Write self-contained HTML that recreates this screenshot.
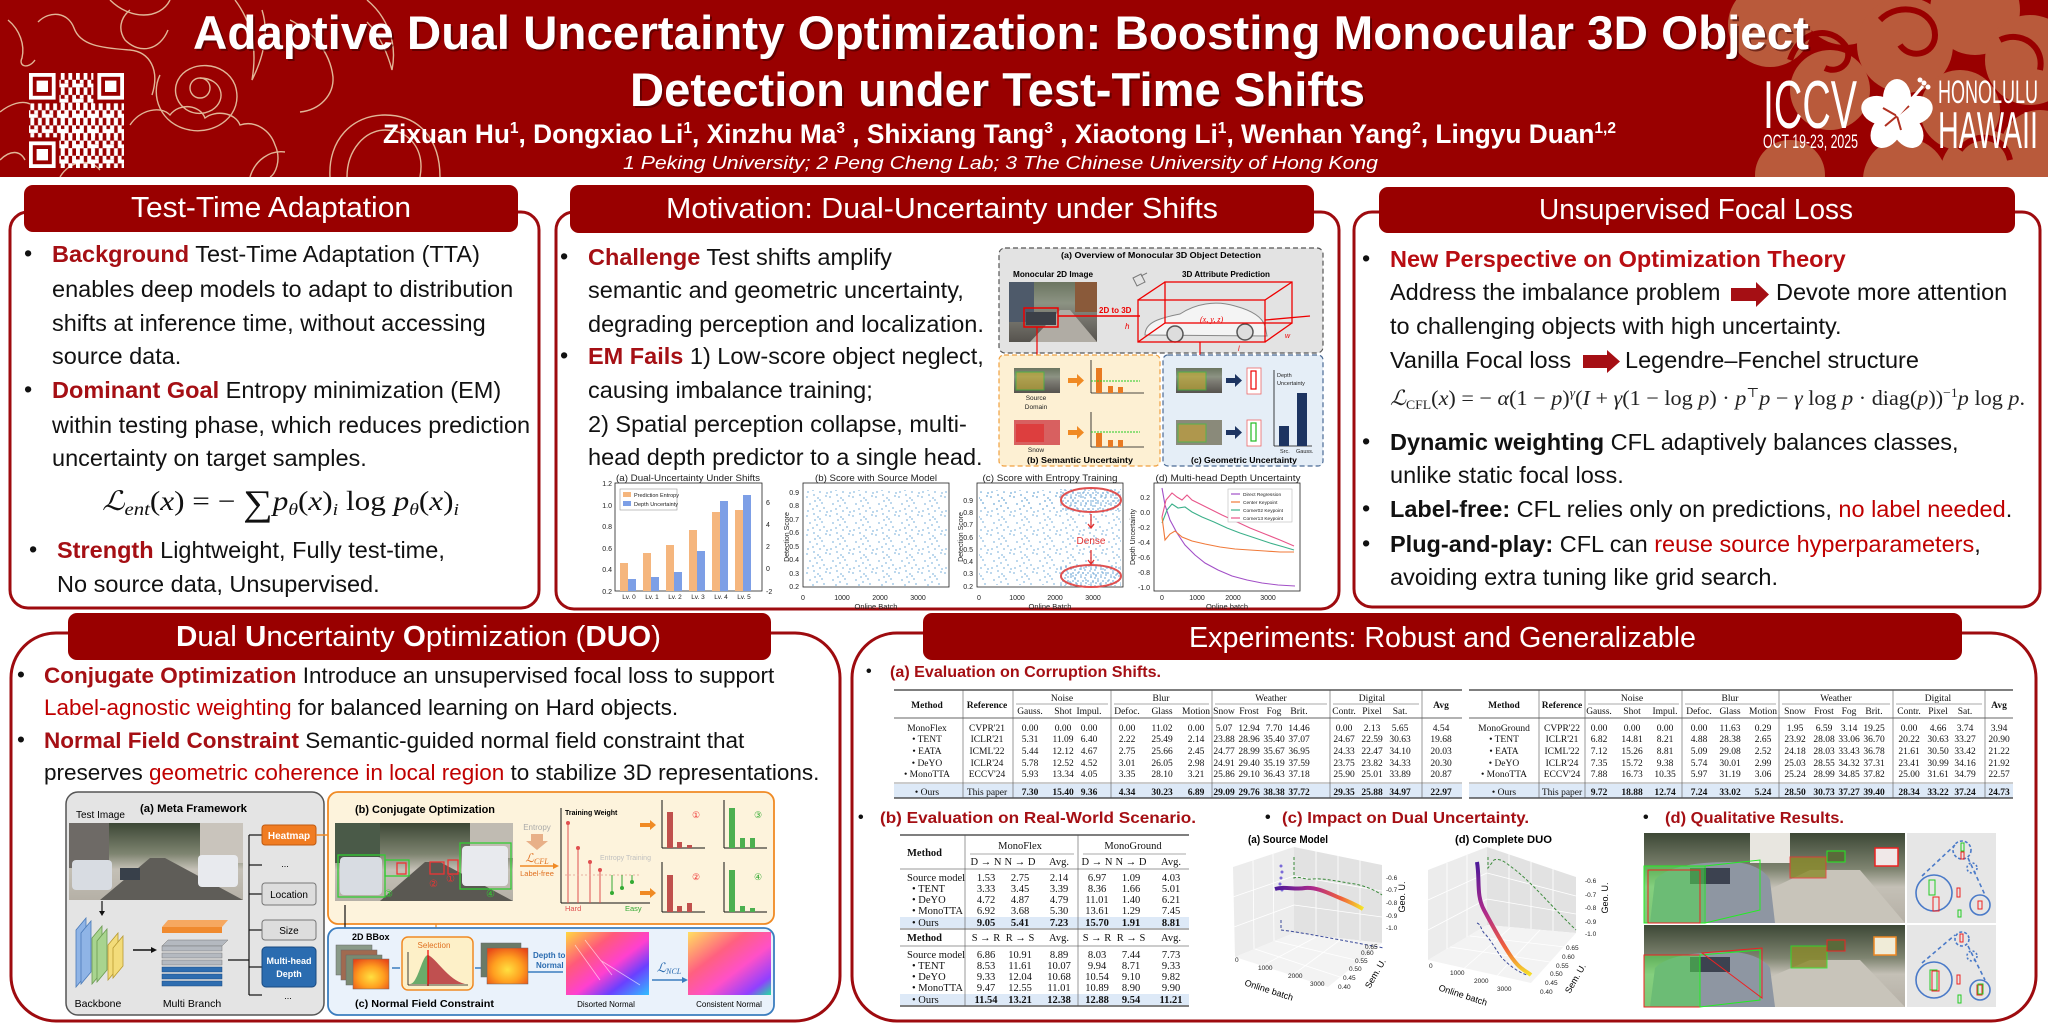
<!DOCTYPE html>
<html><head><meta charset="utf-8">
<style>
html,body{margin:0;padding:0;background:#fff;width:2048px;height:1024px;overflow:hidden}
svg{display:block}
text{font-family:"Liberation Sans",Arial,sans-serif}
.sf{font-family:"Liberation Serif","DejaVu Serif",serif}
.k{font-weight:bold;fill:#a50f14}
.r{fill:#c00000}
.t text{font-size:9.5px;font-family:"Liberation Serif","DejaVu Serif",serif;fill:#111}
.tb text{font-size:10.5px;font-family:"Liberation Serif","DejaVu Serif",serif;fill:#111}
</style></head><body>
<svg width="2048" height="1024" viewBox="0 0 2048 1024" xmlns="http://www.w3.org/2000/svg">
<defs>
<pattern id="qr" width="15.2" height="15.2" patternUnits="userSpaceOnUse">
<rect x="0" y="0" width="3.8" height="3.8" fill="#fff"/><rect x="7.6" y="0" width="3.8" height="3.8" fill="#fff"/><rect x="3.8" y="3.8" width="3.8" height="3.8" fill="#fff"/><rect x="11.4" y="3.8" width="3.8" height="7.6" fill="#fff"/><rect x="0" y="7.6" width="7.6" height="3.8" fill="#fff"/><rect x="7.6" y="11.4" width="3.8" height="3.8" fill="#fff"/><rect x="0" y="11.4" width="3.8" height="3.8" fill="#fff"/>
</pattern>
<pattern id="sc" width="23" height="19" patternUnits="userSpaceOnUse">
<g fill="#8dbbe0"><circle cx="2" cy="3" r="0.9"/><circle cx="9" cy="1" r="0.9"/><circle cx="15" cy="6" r="0.9"/><circle cx="21" cy="2" r="0.9"/><circle cx="5" cy="10" r="0.9"/><circle cx="12" cy="12" r="0.9"/><circle cx="19" cy="14" r="0.9"/><circle cx="3" cy="17" r="0.9"/><circle cx="8" cy="15" r="0.9"/><circle cx="17" cy="9" r="0.9"/><circle cx="22" cy="18" r="0.9"/><circle cx="13" cy="4" r="0.9"/><circle cx="10" cy="7" r="0.9"/><circle cx="15" cy="17" r="0.9"/></g>
</pattern>
<pattern id="scd" width="10" height="8" patternUnits="userSpaceOnUse">
<g fill="#7fb1da"><circle cx="1" cy="1" r="0.9"/><circle cx="5" cy="2" r="0.9"/><circle cx="8" cy="5" r="0.9"/><circle cx="3" cy="5" r="0.9"/><circle cx="6" cy="7" r="0.9"/><circle cx="1" cy="7" r="0.8"/></g>
</pattern>
<linearGradient id="street" x1="0" y1="0" x2="0" y2="1">
<stop offset="0" stop-color="#6b7560"/><stop offset="0.35" stop-color="#8c9383"/><stop offset="0.55" stop-color="#7b7a72"/><stop offset="1" stop-color="#56534e"/>
</linearGradient>
<linearGradient id="street2" x1="0" y1="0" x2="0" y2="1">
<stop offset="0" stop-color="#3d4836"/><stop offset="0.4" stop-color="#7e8470"/><stop offset="0.6" stop-color="#c4c0b6"/><stop offset="1" stop-color="#b5b0a6"/>
</linearGradient>
<radialGradient id="depth" cx="0.5" cy="0.6" r="0.7">
<stop offset="0" stop-color="#ffe040"/><stop offset="0.5" stop-color="#ffa020"/><stop offset="1" stop-color="#e84818"/>
</radialGradient>
<linearGradient id="normal" x1="0" y1="0" x2="1" y2="1">
<stop offset="0" stop-color="#ffd840"/><stop offset="0.3" stop-color="#ff5a7a"/><stop offset="0.55" stop-color="#ff40d0"/><stop offset="0.75" stop-color="#6a40ff"/><stop offset="1" stop-color="#30c0ff"/>
</linearGradient>
<linearGradient id="normal2" x1="0" y1="0" x2="1" y2="1">
<stop offset="0" stop-color="#ffe060"/><stop offset="0.35" stop-color="#ff6080"/><stop offset="0.6" stop-color="#ff50c8"/><stop offset="0.85" stop-color="#9040ff"/><stop offset="1" stop-color="#20e0a0"/>
</linearGradient>
<linearGradient id="cA" gradientUnits="userSpaceOnUse" x1="1275" y1="0" x2="1363" y2="0">
<stop offset="0" stop-color="#4b1a9a"/><stop offset="0.45" stop-color="#b02a8a"/><stop offset="0.75" stop-color="#f0603a"/><stop offset="1" stop-color="#f5e52a"/>
</linearGradient>
<linearGradient id="cD" gradientUnits="userSpaceOnUse" x1="0" y1="862" x2="0" y2="976">
<stop offset="0" stop-color="#4b1a9a"/><stop offset="0.45" stop-color="#b02a8a"/><stop offset="0.75" stop-color="#f0603a"/><stop offset="1" stop-color="#f5e52a"/>
</linearGradient>
<clipPath id="hdr"><rect x="0" y="0" width="2048" height="177"/></clipPath>
</defs>

<!-- ================= HEADER ================= -->
<rect x="0" y="0" width="2048" height="177" fill="#990000"/>
<g clip-path="url(#hdr)">
<g fill="#b95a3b">
<circle cx="1770" cy="25" r="42"/><circle cx="1845" cy="0" r="45"/><circle cx="1905" cy="45" r="48"/><circle cx="1975" cy="10" r="45"/><circle cx="2030" cy="60" r="45"/><circle cx="2040" cy="150" r="40"/><circle cx="1985" cy="175" r="45"/><circle cx="1905" cy="180" r="42"/><circle cx="1830" cy="90" r="40"/><circle cx="1790" cy="175" r="35"/><circle cx="1960" cy="110" r="40"/>
</g>
<g fill="none" stroke="#990000" stroke-width="6">
<path d="M1790,60 C1800,30 1830,25 1845,45 C1855,60 1840,75 1825,68"/>
<path d="M1880,20 C1900,0 1935,10 1935,35 C1935,55 1910,60 1900,45"/>
<path d="M2000,40 C2020,30 2045,45 2040,70"/>
<path d="M1960,150 C1975,130 2005,135 2010,160"/>
<path d="M1740,120 C1760,110 1780,120 1785,140"/>
</g>
<g fill="none" stroke="#e9caa8" stroke-width="1.4" opacity="0.9">
<path d="M8,20 C20,30 25,45 22,58 C18,66 28,70 35,60"/>
<path d="M0,112 C10,104 22,100 30,104 M130,10 C120,18 118,30 125,40 C140,55 160,50 168,30"/>
<path d="M38,22 C50,10 68,12 74,28 C80,45 100,48 130,50 C150,52 160,70 152,95"/>
<path d="M110,0 C130,20 160,20 170,0"/>
<circle cx="200" cy="88" r="10"/><path d="M200,78 C222,78 228,100 212,110 C190,122 168,100 178,80 C188,60 225,60 235,85 C245,115 215,135 190,130 C160,125 150,95 160,75"/>
<path d="M130,125 C140,110 160,105 170,115 C180,102 200,105 205,118 C215,110 235,112 240,125 C255,120 270,130 275,145 C282,160 275,175 270,177"/>
<path d="M235,0 C250,20 258,45 252,80 C262,60 270,35 262,10"/>
<path d="M290,20 C310,30 330,50 333,77 C334,95 320,110 300,112"/>
<path d="M367,0 C385,15 398,40 392,70 C388,55 380,35 367,22"/>
<path d="M347,177 C347,150 365,130 385,130 C410,130 425,150 420,177"/>
<path d="M330,177 C328,140 352,115 385,115 C420,115 440,140 440,177"/>
<path d="M60,177 C70,160 90,158 100,170 M0,160 C10,150 20,150 25,160"/>
<path d="M250,177 C255,160 270,150 285,152"/>
</g>
</g>
<!-- QR -->
<g>
<rect x="59.4" y="73" width="34" height="95" fill="url(#qr)"/>
<rect x="29" y="103.4" width="95" height="34" fill="url(#qr)"/>
<rect x="59.4" y="103.4" width="64.6" height="64.6" fill="url(#qr)"/>
<rect x="29" y="73" width="26.6" height="26.6" fill="#fff"/><rect x="32.8" y="76.8" width="19" height="19" fill="#990000"/><rect x="36.6" y="80.6" width="11.4" height="11.4" fill="#fff"/>
<rect x="97.4" y="73" width="26.6" height="26.6" fill="#fff"/><rect x="101.2" y="76.8" width="19" height="19" fill="#990000"/><rect x="105" y="80.6" width="11.4" height="11.4" fill="#fff"/>
<rect x="29" y="141.4" width="26.6" height="26.6" fill="#fff"/><rect x="32.8" y="145.2" width="19" height="19" fill="#990000"/><rect x="36.6" y="149" width="11.4" height="11.4" fill="#fff"/>
</g>
<!-- title -->
<g font-weight="bold" font-size="47">
<text x="195" y="51" fill="#3a0000" opacity="0.55" textLength="1616" lengthAdjust="spacingAndGlyphs">Adaptive Dual Uncertainty Optimization: Boosting Monocular 3D Object</text>
<text x="193" y="49" fill="#fff" textLength="1616" lengthAdjust="spacingAndGlyphs">Adaptive Dual Uncertainty Optimization: Boosting Monocular 3D Object</text>
<text x="632" y="108" fill="#3a0000" opacity="0.55" textLength="735" lengthAdjust="spacingAndGlyphs">Detection under Test-Time Shifts</text>
<text x="630" y="106" fill="#fff" textLength="735" lengthAdjust="spacingAndGlyphs">Detection under Test-Time Shifts</text>
</g>
<text x="383" y="143" font-size="27" font-weight="bold" fill="#fff" textLength="1233" lengthAdjust="spacingAndGlyphs">Zixuan Hu<tspan font-size="16" dy="-10">1</tspan><tspan dy="10">, Dongxiao Li</tspan><tspan font-size="16" dy="-10">1</tspan><tspan dy="10">, Xinzhu Ma</tspan><tspan font-size="16" dy="-10">3</tspan><tspan dy="10"> , Shixiang Tang</tspan><tspan font-size="16" dy="-10">3</tspan><tspan dy="10"> , Xiaotong Li</tspan><tspan font-size="16" dy="-10">1</tspan><tspan dy="10">, Wenhan Yang</tspan><tspan font-size="16" dy="-10">2</tspan><tspan dy="10">, Lingyu Duan</tspan><tspan font-size="16" dy="-10">1,2</tspan></text>
<text x="623" y="169" font-size="18" font-style="italic" fill="#fff" textLength="755" lengthAdjust="spacingAndGlyphs">1 Peking University; 2 Peng Cheng Lab; 3 The Chinese University of Hong Kong</text>
<!-- ICCV logo -->
<g fill="#fff">
<text x="1763" y="128" font-size="68" textLength="94" lengthAdjust="spacingAndGlyphs">ICCV</text>
<text x="1763" y="148" font-size="19" textLength="95" lengthAdjust="spacingAndGlyphs">OCT 19-23, 2025</text>
<text x="1938" y="103" font-size="32" textLength="100" lengthAdjust="spacingAndGlyphs">HONOLULU</text>
<text x="1938" y="148" font-size="52" textLength="100" lengthAdjust="spacingAndGlyphs">HAWAII</text>
<g transform="translate(1897,116)">
<ellipse cx="0" cy="-18" rx="14" ry="19"/><ellipse cx="0" cy="-18" rx="14" ry="19" transform="rotate(72)"/><ellipse cx="0" cy="-18" rx="14" ry="19" transform="rotate(144)"/><ellipse cx="0" cy="-18" rx="14" ry="19" transform="rotate(216)"/><ellipse cx="0" cy="-18" rx="14" ry="19" transform="rotate(288)"/>
<path d="M0,0 L-14,-8 M0,0 L12,-10 M0,0 L4,14 M0,0 L-12,10" stroke="#b03020" stroke-width="2"/>
<path d="M0,0 L26,-30" stroke="#fff" stroke-width="3"/>
<circle cx="27" cy="-33" r="2.5"/><circle cx="31" cy="-29" r="2.5"/><circle cx="23" cy="-36" r="2.5"/>
</g>
</g>

<!-- ================= PANEL 1 ================= -->
<rect x="10" y="212" width="529" height="396" rx="18" fill="#fff" stroke="#9e0b0f" stroke-width="3"/>
<rect x="24" y="185" width="494" height="47" rx="9" fill="#990000"/>
<text x="131" y="217" font-size="29" fill="#fff" textLength="280" lengthAdjust="spacingAndGlyphs">Test-Time Adaptation</text>
<g font-size="23.5" fill="#111">
<text x="24" y="261">•</text>
<text x="52" y="262"><tspan class="k">Background</tspan> Test-Time Adaptation (TTA)</text>
<text x="52" y="297">enables deep models to adapt to distribution</text>
<text x="52" y="331">shifts at inference time, without accessing</text>
<text x="52" y="364">source data.</text>
<text x="24" y="397">•</text>
<text x="52" y="398"><tspan class="k">Dominant Goal</tspan> Entropy minimization (EM)</text>
<text x="52" y="433">within testing phase, which reduces prediction</text>
<text x="52" y="466">uncertainty on target samples.</text>
<text x="29" y="557">•</text>
<text x="57" y="558"><tspan class="k">Strength</tspan> Lightweight, Fully test-time,</text>
<text x="57" y="592">No source data, Unsupervised.</text>
</g>
<text x="102" y="510" class="sf" font-size="27" fill="#111" textLength="357" lengthAdjust="spacingAndGlyphs"><tspan font-style="italic">ℒ</tspan><tspan font-style="italic" font-size="18" dy="5">ent</tspan><tspan dy="-5">(</tspan><tspan font-style="italic">x</tspan>) = − <tspan font-size="36" dy="5">∑</tspan><tspan dy="-5" font-style="italic">p</tspan><tspan font-style="italic" font-size="17" dy="5">θ</tspan><tspan dy="-5">(</tspan><tspan font-style="italic">x</tspan>)<tspan font-style="italic" font-size="17" dy="5">i</tspan><tspan dy="-5"> log </tspan><tspan font-style="italic">p</tspan><tspan font-style="italic" font-size="17" dy="5">θ</tspan><tspan dy="-5">(</tspan><tspan font-style="italic">x</tspan>)<tspan font-style="italic" font-size="17" dy="5">i</tspan></text>

<!-- ================= PANEL 2 ================= -->
<rect x="556" y="212" width="783" height="397" rx="18" fill="#fff" stroke="#9e0b0f" stroke-width="3"/>
<rect x="570" y="185" width="744" height="48" rx="9" fill="#990000"/>
<text x="666" y="218" font-size="29" fill="#fff" textLength="552" lengthAdjust="spacingAndGlyphs">Motivation:  Dual-Uncertainty under Shifts</text>
<g font-size="23.5" fill="#111">
<text x="560" y="264">•</text>
<text x="588" y="265"><tspan class="k">Challenge</tspan> Test shifts amplify</text>
<text x="588" y="298">semantic and geometric uncertainty,</text>
<text x="588" y="332">degrading perception and localization.</text>
<text x="560" y="363">•</text>
<text x="588" y="364"><tspan class="k">EM Fails</tspan> 1) Low-score object neglect,</text>
<text x="588" y="398">causing imbalance training;</text>
<text x="588" y="432">2) Spatial perception collapse, multi-</text>
<text x="588" y="465">head depth predictor to a single head.</text>
</g>
<!-- overview (a) -->
<rect x="999" y="248" width="324" height="105" rx="6" fill="#e3e3e3" stroke="#555" stroke-width="1.2" stroke-dasharray="5,3"/>
<text x="1161" y="258" font-size="8.5" font-weight="bold" text-anchor="middle" textLength="200" lengthAdjust="spacingAndGlyphs">(a) Overview of Monocular 3D Object Detection</text>
<text x="1013" y="277" font-size="8" font-weight="bold" textLength="80" lengthAdjust="spacingAndGlyphs">Monocular 2D Image</text>
<text x="1182" y="277" font-size="8" font-weight="bold" textLength="88" lengthAdjust="spacingAndGlyphs">3D Attribute Prediction</text>
<rect x="1009" y="282" width="88" height="60" fill="url(#street)"/>
<rect x="1009" y="282" width="25" height="40" fill="#4e5a6a"/><rect x="1075" y="282" width="22" height="30" fill="#8a5a3a"/>
<polygon points="1030,342 1060,310 1070,310 1097,342" fill="#b0aca4"/>
<rect x="1026" y="312" width="30" height="13" fill="#3c4048"/>
<rect x="1024" y="308" width="34" height="19" fill="none" stroke="#e00" stroke-width="1.5"/>
<line x1="1058" y1="316" x2="1140" y2="316" stroke="#e00" stroke-width="1.5"/>
<text x="1099" y="313" font-size="8" font-weight="bold" fill="#e00">2D to 3D</text>
<text x="1125" y="329" font-size="8" font-style="italic" fill="#e00">h</text>
<path d="M1133,278 l8,-4 l4,8 l-8,4 z M1141,276 l6,-3" fill="none" stroke="#777" stroke-width="1"/>
<path d="M1145,335 C1145,322 1160,318 1180,314 C1195,304 1215,300 1235,306 C1250,310 1262,316 1265,326 L1267,336 Z" fill="#f4f4f4" stroke="#888" stroke-width="1"/>
<circle cx="1175" cy="334" r="8" fill="#ddd" stroke="#555" stroke-width="1.5"/><circle cx="1245" cy="332" r="8" fill="#ddd" stroke="#555" stroke-width="1.5"/>
<g stroke="#e00" stroke-width="1.3" fill="none">
<rect x="1138" y="300" width="127" height="42"/><rect x="1165" y="282" width="127" height="41"/>
<line x1="1138" y1="300" x2="1165" y2="282"/><line x1="1265" y1="300" x2="1292" y2="282"/><line x1="1265" y1="342" x2="1292" y2="323"/><line x1="1138" y1="342" x2="1165" y2="323"/>
<line x1="1265" y1="320" x2="1310" y2="316"/>
</g>
<text x="1200" y="322" font-size="8" font-style="italic" fill="#e00" class="sf">(x, y, z)</text>
<text x="1285" y="338" font-size="7" font-style="italic" fill="#e00">w</text><text x="1238" y="351" font-size="7" font-style="italic" fill="#e00">l</text>
<line x1="1037" y1="327" x2="1037" y2="372" stroke="#e00" stroke-width="1.2"/>
<line x1="1200" y1="342" x2="1200" y2="368" stroke="#e00" stroke-width="1.2"/>
<!-- (b) semantic -->
<rect x="999" y="355" width="161" height="111" rx="5" fill="#fdf0d3" stroke="#f0a040" stroke-width="1.2" stroke-dasharray="5,3"/>
<rect x="1014" y="368" width="46" height="25" fill="url(#street)"/><rect x="1016" y="372" width="28" height="18" fill="#c8b030" opacity="0.6" stroke="#3c3" stroke-width="1"/>
<rect x="1014" y="420" width="46" height="25" fill="#d86060"/><rect x="1016" y="424" width="28" height="18" fill="#e03030" opacity="0.7"/>
<g font-size="6.5" text-anchor="middle" fill="#222"><text x="1036" y="400">Source</text><text x="1036" y="409">Domain</text><text x="1036" y="452">Snow</text>
<text x="1200" y="400">Source</text><text x="1200" y="409">Domain</text><text x="1200" y="452">Gaussian Noise</text>
<text x="1254" y="402">BEV</text><text x="1254" y="452">BEV</text></g>
<g fill="#f08a24"><polygon points="1068,378 1077,378 1077,374 1084,380.5 1077,387 1077,383 1068,383"/><polygon points="1068,430 1077,430 1077,426 1084,432.5 1077,439 1077,435 1068,435"/></g>
<g stroke="#111" stroke-width="0.8"><line x1="1091" y1="360" x2="1091" y2="393"/><line x1="1091" y1="393" x2="1144" y2="393"/><line x1="1091" y1="412" x2="1091" y2="447"/><line x1="1091" y1="447" x2="1144" y2="447"/></g>
<g fill="#e87a22"><rect x="1096" y="368" width="6" height="25"/><rect x="1108" y="386" width="5" height="7"/><rect x="1118" y="387" width="5" height="6"/><rect x="1096" y="433" width="6" height="14"/><rect x="1108" y="440" width="5" height="7"/><rect x="1118" y="440" width="5" height="7"/></g>
<line x1="1091" y1="381" x2="1140" y2="381" stroke="#2c2" stroke-width="1" stroke-dasharray="2,1"/><line x1="1091" y1="432" x2="1140" y2="432" stroke="#2c2" stroke-width="1" stroke-dasharray="2,1"/>
<text x="1080" y="463" font-size="8.5" font-weight="bold" text-anchor="middle" textLength="106" lengthAdjust="spacingAndGlyphs">(b) Semantic Uncertainty</text>
<!-- (c) geometric -->
<rect x="1163" y="355" width="160" height="111" rx="5" fill="#e5eef7" stroke="#4a6a95" stroke-width="1.2" stroke-dasharray="5,3"/>
<rect x="1176" y="368" width="46" height="25" fill="url(#street)"/><rect x="1178" y="372" width="28" height="18" fill="#c8b030" opacity="0.6" stroke="#3c3" stroke-width="1"/>
<rect x="1176" y="420" width="46" height="25" fill="#8a8a7a"/><rect x="1178" y="424" width="28" height="18" fill="#c8a030" opacity="0.6" stroke="#3c3" stroke-width="1"/>
<g fill="#1d3461"><polygon points="1226,378 1235,378 1235,374 1242,380.5 1235,387 1235,383 1226,383"/><polygon points="1226,430 1235,430 1235,426 1242,432.5 1235,439 1235,435 1226,435"/></g>
<rect x="1247" y="368" width="14" height="26" fill="#fff" stroke="#e66" stroke-width="0.8"/><rect x="1251" y="371" width="5" height="18" fill="none" stroke="#e00" stroke-width="1.2"/>
<rect x="1247" y="420" width="14" height="26" fill="#fff" stroke="#e66" stroke-width="0.8"/><rect x="1251" y="423" width="5" height="18" fill="none" stroke="#2b2" stroke-width="1.2"/>
<g stroke="#111" stroke-width="0.8"><line x1="1274" y1="370" x2="1274" y2="446"/><line x1="1274" y1="446" x2="1312" y2="446"/></g>
<rect x="1279" y="426" width="10" height="20" fill="#1d3461"/><rect x="1297" y="393" width="10" height="53" fill="#1d3461"/>
<g font-size="5.5" fill="#222"><text x="1277" y="377">Depth</text><text x="1277" y="385">Uncertainty</text><text x="1280" y="453">Src.</text><text x="1296" y="453">Gauss.</text></g>
<text x="1244" y="463" font-size="8.5" font-weight="bold" text-anchor="middle" textLength="106" lengthAdjust="spacingAndGlyphs">(c) Geometric Uncertainty</text>

<!-- chart a -->
<g font-size="7" fill="#222">
<text x="688" y="481" font-size="9" text-anchor="middle" textLength="144" lengthAdjust="spacingAndGlyphs">(a) Dual-Uncertainty Under Shifts</text>
<rect x="615" y="483" width="147" height="108" fill="#fff" stroke="#222" stroke-width="0.8"/>
<g text-anchor="end"><text x="612" y="486">1.2</text><text x="612" y="508">1.0</text><text x="612" y="529">0.8</text><text x="612" y="551">0.6</text><text x="612" y="572">0.4</text><text x="612" y="594">0.2</text></g>
<text x="766" y="505">6</text><text x="766" y="527">4</text><text x="766" y="549">2</text><text x="766" y="571">0</text><text x="766" y="594">-2</text>
<g fill="#f5b67e"><rect x="620" y="563" width="8" height="28"/><rect x="643" y="553" width="8" height="38"/><rect x="666" y="545" width="8" height="46"/><rect x="689" y="530" width="8" height="61"/><rect x="712" y="512" width="8" height="79"/><rect x="735" y="510" width="8" height="81"/></g>
<g fill="#7d9fe6"><rect x="628" y="579" width="8" height="12"/><rect x="651" y="577" width="8" height="14"/><rect x="674" y="572" width="8" height="19"/><rect x="697" y="551" width="8" height="40"/><rect x="720" y="501" width="8" height="90"/><rect x="743" y="495" width="8" height="96"/></g>
<rect x="620" y="489" width="57" height="21" fill="#fff" stroke="#999" stroke-width="0.6"/>
<rect x="623" y="492" width="8" height="5" fill="#f5b67e"/><rect x="623" y="501" width="8" height="5" fill="#7d9fe6"/>
<text x="634" y="497" font-size="5.5">Prediction Entropy</text><text x="634" y="506" font-size="5.5">Depth Uncertainty</text>
<g text-anchor="middle" font-size="6.5"><text x="629" y="599">Lv. 0</text><text x="652" y="599">Lv. 1</text><text x="675" y="599">Lv. 2</text><text x="698" y="599">Lv. 3</text><text x="721" y="599">Lv. 4</text><text x="744" y="599">Lv. 5</text></g>
</g>
<!-- chart b -->
<g font-size="7" fill="#222">
<text x="876" y="481" font-size="9" text-anchor="middle" textLength="122" lengthAdjust="spacingAndGlyphs">(b) Score with Source Model</text>
<rect x="803" y="483" width="146" height="104" fill="#fff" stroke="#222" stroke-width="0.8"/>
<rect x="805" y="490" width="142" height="96" fill="url(#sc)"/>
<g text-anchor="end"><text x="799" y="495">0.9</text><text x="799" y="508">0.8</text><text x="799" y="522">0.7</text><text x="799" y="535">0.6</text><text x="799" y="549">0.5</text><text x="799" y="562">0.4</text><text x="799" y="576">0.3</text><text x="799" y="589">0.2</text></g>
<text transform="translate(789,537) rotate(-90)" text-anchor="middle">Detection Score</text>
<g text-anchor="middle"><text x="803" y="600">0</text><text x="842" y="600">1000</text><text x="880" y="600">2000</text><text x="918" y="600">3000</text></g>
<text x="876" y="609" text-anchor="middle" font-size="7.5">Online Batch</text>
</g>
<!-- chart c -->
<g font-size="7" fill="#222">
<text x="1050" y="481" font-size="9" text-anchor="middle" textLength="135" lengthAdjust="spacingAndGlyphs">(c) Score with Entropy Training</text>
<rect x="977" y="483" width="146" height="104" fill="#fff" stroke="#222" stroke-width="0.8"/>
<rect x="979" y="490" width="142" height="95" fill="url(#sc)"/>
<rect x="1060" y="489" width="61" height="22" fill="url(#scd)"/><rect x="1060" y="566" width="61" height="20" fill="url(#scd)"/>
<rect x="979" y="492" width="81" height="18" fill="url(#sc)"/>
<ellipse cx="1091" cy="500" rx="30" ry="12" fill="none" stroke="#e05050" stroke-width="2"/>
<ellipse cx="1091" cy="576" rx="30" ry="11" fill="none" stroke="#e05050" stroke-width="2"/>
<text x="1091" y="544" font-size="10" fill="#e03030" text-anchor="middle">Dense</text>
<path d="M1091,514 L1091,527 M1088,524 L1091,528 L1094,524 M1091,550 L1091,563 M1088,560 L1091,564 L1094,560" stroke="#e03030" stroke-width="1.3" fill="none"/>
<g text-anchor="end"><text x="973" y="503">0.9</text><text x="973" y="515">0.8</text><text x="973" y="527">0.7</text><text x="973" y="540">0.6</text><text x="973" y="552">0.5</text><text x="973" y="564">0.4</text><text x="973" y="576">0.3</text><text x="973" y="589">0.2</text></g>
<text transform="translate(963,537) rotate(-90)" text-anchor="middle">Detection Score</text>
<g text-anchor="middle"><text x="979" y="600">0</text><text x="1017" y="600">1000</text><text x="1055" y="600">2000</text><text x="1093" y="600">3000</text></g>
<text x="1050" y="609" text-anchor="middle" font-size="7.5">Online Batch</text>
</g>
<!-- chart d -->
<g font-size="7" fill="#222">
<text x="1228" y="481" font-size="9" text-anchor="middle" textLength="145" lengthAdjust="spacingAndGlyphs">(d) Multi-head Depth Uncertainty</text>
<rect x="1154" y="483" width="146" height="108" fill="#fff" stroke="#222" stroke-width="0.8"/>
<g text-anchor="end"><text x="1150" y="500">0.2</text><text x="1150" y="515">0.0</text><text x="1150" y="530">-0.2</text><text x="1150" y="545">-0.4</text><text x="1150" y="560">-0.6</text><text x="1150" y="575">-0.8</text><text x="1150" y="590">-1.0</text></g>
<text transform="translate(1135,537) rotate(-90)" text-anchor="middle">Depth Uncertainty</text>
<g text-anchor="middle"><text x="1162" y="600">0</text><text x="1197" y="600">1000</text><text x="1233" y="600">2000</text><text x="1268" y="600">3000</text></g>
<text x="1227" y="609" text-anchor="middle" font-size="7.5">Online batch</text>
<g fill="none" stroke-width="1.1">
<polyline stroke="#a24fc7" points="1162,488 1165,505 1170,520 1177,533 1185,545 1195,555 1205,563 1218,570 1232,576 1247,580 1262,583 1278,585 1295,586"/>
<polyline stroke="#e8558a" points="1162,517 1166,500 1172,493 1177,497 1182,500 1187,495 1192,500 1200,504 1210,509 1222,515 1235,521 1250,528 1265,534 1280,540 1294,546"/>
<polyline stroke="#3cb08a" points="1162,523 1167,510 1172,504 1178,508 1185,507 1192,512 1202,517 1214,522 1227,528 1240,533 1255,538 1270,543 1284,547 1294,550"/>
<polyline stroke="#f07a3a" points="1162,517 1165,540 1170,534 1175,531 1182,537 1192,541 1205,544 1220,547 1235,549 1250,550 1265,551 1280,552 1294,552"/>
</g>
<rect x="1228" y="489" width="64" height="33" fill="#fff" stroke="#bbb" stroke-width="0.6"/>
<g stroke-width="1.2"><line x1="1231" y1="494" x2="1240" y2="494" stroke="#a24fc7"/><line x1="1231" y1="502" x2="1240" y2="502" stroke="#f07a3a"/><line x1="1231" y1="510" x2="1240" y2="510" stroke="#3cb08a"/><line x1="1231" y1="518" x2="1240" y2="518" stroke="#e8558a"/></g>
<g font-size="4.8"><text x="1243" y="496">Direct Regression</text><text x="1243" y="504">Center Keypoint</text><text x="1243" y="512">Corner02 Keypoint</text><text x="1243" y="520">Corner13 Keypoint</text></g>
</g>

<!-- ================= PANEL 3 ================= -->
<rect x="1354" y="212" width="686" height="395" rx="18" fill="#fff" stroke="#9e0b0f" stroke-width="3"/>
<rect x="1379" y="187" width="636" height="46" rx="9" fill="#990000"/>
<text x="1539" y="219" font-size="29" fill="#fff" textLength="314" lengthAdjust="spacingAndGlyphs">Unsupervised Focal Loss</text>
<g font-size="23.5" fill="#111">
<text x="1362" y="266">•</text>
<text x="1390" y="267" class="k" style="fill:#b80d12">New Perspective on Optimization Theory</text>
<text x="1390" y="300">Address the imbalance problem</text>
<text x="1776" y="300">Devote more attention</text>
<text x="1390" y="334">to challenging objects with high uncertainty.</text>
<text x="1390" y="368">Vanilla Focal loss</text>
<text x="1625" y="368">Legendre–Fenchel structure</text>
<text x="1362" y="449">•</text>
<text x="1390" y="450"><tspan font-weight="bold">Dynamic weighting</tspan> CFL adaptively balances classes,</text>
<text x="1390" y="483">unlike static focal loss.</text>
<text x="1362" y="516">•</text>
<text x="1390" y="517"><tspan font-weight="bold">Label-free:</tspan> CFL relies only on predictions, <tspan class="r">no label needed</tspan>.</text>
<text x="1362" y="551">•</text>
<text x="1390" y="552"><tspan font-weight="bold">Plug-and-play:</tspan> CFL can <tspan class="r">reuse source hyperparameters</tspan>,</text>
<text x="1390" y="585">avoiding extra tuning like grid search.</text>
</g>
<polygon points="1731,288 1756,288 1756,282 1769,294.5 1756,307 1756,301 1731,301" fill="#a50f14"/>
<polygon points="1583,355 1607,355 1607,350 1620,361.5 1607,373 1607,368 1583,368" fill="#a50f14"/>
<text x="1390" y="405" class="sf" font-size="21" fill="#222" textLength="635" lengthAdjust="spacingAndGlyphs"><tspan font-style="italic">ℒ</tspan><tspan font-size="13" dy="4">CFL</tspan><tspan dy="-4">(</tspan><tspan font-style="italic">x</tspan>) = − <tspan font-style="italic">α</tspan>(1 − <tspan font-style="italic">p</tspan>)<tspan font-style="italic" font-size="13" dy="-8">γ</tspan><tspan dy="8">(</tspan><tspan font-style="italic">I</tspan> + <tspan font-style="italic">γ</tspan>(1 − log <tspan font-style="italic">p</tspan>) · <tspan font-style="italic">p</tspan><tspan font-size="13" dy="-8">⊤</tspan><tspan dy="8" font-style="italic">p</tspan> − <tspan font-style="italic">γ</tspan> log <tspan font-style="italic">p</tspan> · diag(<tspan font-style="italic">p</tspan>))<tspan font-size="13" dy="-8">−1</tspan><tspan dy="8" font-style="italic">p</tspan> log <tspan font-style="italic">p</tspan>.</text>

<!-- ================= PANEL 4 (DUO) ================= -->
<rect x="11" y="633" width="829" height="388" rx="45" fill="#fff" stroke="#9e0b0f" stroke-width="3"/>
<rect x="68" y="613" width="703" height="47" rx="9" fill="#990000"/>
<text x="176" y="646" font-size="29" fill="#fff" textLength="485" lengthAdjust="spacingAndGlyphs"><tspan font-weight="bold">D</tspan>ual <tspan font-weight="bold">U</tspan>ncertainty <tspan font-weight="bold">O</tspan>ptimization (<tspan font-weight="bold">DUO</tspan>)</text>
<g font-size="22.5" fill="#111">
<text x="17" y="682">•</text>
<text x="44" y="683"><tspan class="k">Conjugate Optimization</tspan> Introduce an unsupervised focal loss to support</text>
<text x="44" y="715"><tspan class="r">Label-agnostic weighting</tspan> for balanced learning on Hard objects.</text>
<text x="17" y="747">•</text>
<text x="44" y="748"><tspan class="k">Normal Field Constraint</tspan> Semantic-guided normal field constraint that</text>
<text x="44" y="780">preserves <tspan class="r">geometric coherence in local region</tspan> to stabilize 3D representations.</text>
</g>
<!-- (a) meta framework -->
<rect x="66" y="792" width="258" height="223" rx="12" fill="#e4e4e4" stroke="#555" stroke-width="1.5"/>
<text x="76" y="818" font-size="10">Test Image</text>
<text x="140" y="812" font-size="11" font-weight="bold" textLength="107" lengthAdjust="spacingAndGlyphs">(a) Meta Framework</text>
<rect x="69" y="823" width="174" height="77" fill="url(#street2)"/>
<rect x="69" y="823" width="40" height="45" fill="#6e6a66"/><rect x="200" y="823" width="43" height="40" fill="#c9c4bc"/>
<polygon points="100,900 150,858 165,858 243,900" fill="#5f5d58"/>
<rect x="72" y="860" width="40" height="30" rx="4" fill="#d8dce2"/><rect x="198" y="855" width="40" height="32" rx="4" fill="#e8eaee"/><rect x="120" y="868" width="20" height="12" fill="#38404a"/>
<line x1="102" y1="901" x2="102" y2="913" stroke="#111" stroke-width="1.2"/><polygon points="99,911 105,911 102,916" fill="#111"/>
<polygon points="76,930 86,918 86,975 76,987" fill="#8fb4e6" stroke="#4a7ab8" stroke-width="0.8"/>
<polygon points="81,933 91,921 91,972 81,984" fill="#8fb4e6" stroke="#4a7ab8" stroke-width="0.8"/>
<polygon points="92,938 102,926 102,972 92,984" fill="#a8d48f" stroke="#6a9a50" stroke-width="0.8"/>
<polygon points="97,941 107,929 107,970 97,982" fill="#a8d48f" stroke="#6a9a50" stroke-width="0.8"/>
<polygon points="108,945 118,933 118,968 108,980" fill="#f3dc7a" stroke="#b89a30" stroke-width="0.8"/>
<polygon points="113,948 123,936 123,966 113,978" fill="#f3dc7a" stroke="#b89a30" stroke-width="0.8"/>
<line x1="133" y1="950" x2="153" y2="950" stroke="#111" stroke-width="1.5"/><polygon points="151,947 157,950 151,953" fill="#111"/>
<polygon points="168,920 228,920 222,927 162,927" fill="#f6a860"/><rect x="162" y="927" width="60" height="6" fill="#f08a2e"/>
<g fill="#b4b9c0" stroke="#777" stroke-width="0.5"><polygon points="168,940 228,940 222,946 162,946"/><rect x="162" y="946" width="60" height="5"/><rect x="162" y="953" width="60" height="5"/><rect x="162" y="960" width="60" height="5"/></g>
<g fill="#2e6db0" stroke="#1a4a80" stroke-width="0.5"><rect x="162" y="967" width="60" height="5"/><rect x="162" y="974" width="60" height="5"/><rect x="162" y="981" width="60" height="5"/></g>
<text x="98" y="1007" font-size="10.5" text-anchor="middle">Backbone</text>
<text x="192" y="1007" font-size="10.5" text-anchor="middle">Multi Branch</text>
<g stroke="#111" stroke-width="1.2" fill="none"><line x1="228" y1="960" x2="249" y2="960"/><line x1="249" y1="835" x2="249" y2="995"/><line x1="249" y1="835" x2="262" y2="835"/><line x1="249" y1="865" x2="262" y2="865"/><line x1="249" y1="894" x2="262" y2="894"/><line x1="249" y1="930" x2="262" y2="930"/><line x1="249" y1="967" x2="262" y2="967"/><line x1="249" y1="995" x2="262" y2="995"/></g>
<rect x="262" y="825" width="54" height="20" rx="3" fill="#f07c22" stroke="#c05a10"/>
<text x="289" y="839" font-size="10" font-weight="bold" fill="#fff" text-anchor="middle">Heatmap</text>
<text x="285" y="867" font-size="9" text-anchor="middle">...</text>
<rect x="262" y="883" width="54" height="22" rx="3" fill="#ddd" stroke="#777"/><text x="289" y="898" font-size="10" text-anchor="middle">Location</text>
<rect x="262" y="920" width="54" height="20" rx="3" fill="#ddd" stroke="#777"/><text x="289" y="934" font-size="10" text-anchor="middle">Size</text>
<rect x="262" y="947" width="54" height="40" rx="4" fill="#2b6cb0" stroke="#1a4a80"/>
<text x="289" y="964" font-size="9" font-weight="bold" fill="#fff" text-anchor="middle">Multi-head</text><text x="289" y="977" font-size="9" font-weight="bold" fill="#fff" text-anchor="middle">Depth</text>
<text x="288" y="999" font-size="9" text-anchor="middle">...</text>
<line x1="316" y1="835" x2="328" y2="835" stroke="#f08a24" stroke-width="1.5"/>
<!-- (b) conjugate -->
<rect x="328" y="792" width="446" height="132" rx="10" fill="#fdf3dc" stroke="#f08a24" stroke-width="1.8"/>
<text x="355" y="813" font-size="11" font-weight="bold" textLength="140" lengthAdjust="spacingAndGlyphs">(b) Conjugate Optimization</text>
<rect x="335" y="823" width="178" height="78" fill="url(#street2)"/>
<rect x="335" y="823" width="45" height="40" fill="#4a5a48"/><rect x="470" y="823" width="43" height="35" fill="#c0bbb2"/>
<polygon points="380,901 425,862 440,862 513,901" fill="#5a5852"/>
<rect x="340" y="857" width="42" height="38" rx="4" fill="#d8dce2"/><rect x="462" y="846" width="46" height="40" rx="4" fill="#e8eaee"/>
<g fill="none" stroke-width="1.3"><rect x="338" y="855" width="47" height="42" stroke="#3c3"/><rect x="385" y="860" width="24" height="16" stroke="#3c3"/><rect x="397" y="863" width="9" height="11" stroke="#e33"/><rect x="430" y="862" width="14" height="12" stroke="#e33"/><rect x="448" y="860" width="10" height="14" stroke="#e33"/><rect x="460" y="843" width="51" height="46" stroke="#3c3"/></g>
<g font-size="10"><text x="384" y="897" fill="#3c3">③</text><text x="486" y="897" fill="#3c3">④</text><text x="429" y="887" fill="#e33">②</text><text x="446" y="882" fill="#e33">①</text></g>
<text x="537" y="830" font-size="8" fill="#aaa" text-anchor="middle">Entropy</text>
<polygon points="531,834 543,834 543,841 548,841 537,850 526,841 531,841" fill="#e8b088"/>
<text x="537" y="862" font-size="12" font-style="italic" fill="#e07020" text-anchor="middle" class="sf">ℒ<tspan font-size="8" dy="2">CFL</tspan></text>
<line x1="520" y1="866" x2="555" y2="866" stroke="#f08a24" stroke-width="1.5"/><polygon points="553,863 559,866 553,869" fill="#f08a24"/>
<text x="537" y="876" font-size="7.5" fill="#e07020" text-anchor="middle">Label-free</text>
<g stroke="#111" stroke-width="1"><line x1="561" y1="808" x2="561" y2="903"/><line x1="561" y1="903" x2="650" y2="903"/></g>
<text x="565" y="815" font-size="7" font-weight="bold">Training Weight</text>
<g stroke="#e05050" stroke-width="1"><line x1="568" y1="903" x2="568" y2="823"/><line x1="578" y1="903" x2="578" y2="848"/><line x1="590" y1="903" x2="590" y2="862"/><line x1="600" y1="903" x2="600" y2="870"/></g>
<g fill="#e05050"><circle cx="568" cy="823" r="2"/><circle cx="578" cy="848" r="2"/><circle cx="590" cy="862" r="2"/><circle cx="600" cy="870" r="2"/></g>
<line x1="565" y1="875" x2="640" y2="875" stroke="#e8b0a0" stroke-dasharray="2,2"/>
<g stroke="#3a3" stroke-width="1"><line x1="612" y1="875" x2="612" y2="893"/><line x1="622" y1="875" x2="622" y2="888"/><line x1="632" y1="875" x2="632" y2="882"/></g>
<g fill="#3a3"><circle cx="612" cy="893" r="2"/><circle cx="622" cy="888" r="2"/><circle cx="632" cy="882" r="2"/></g>
<text x="600" y="860" font-size="7" fill="#c0c0c0">Entropy Training</text>
<text x="565" y="911" font-size="7.5" fill="#e05050">Hard</text><text x="625" y="911" font-size="7.5" fill="#3a3">Easy</text>
<g stroke="#111" stroke-width="1"><line x1="662" y1="800" x2="662" y2="848"/><line x1="662" y1="848" x2="705" y2="848"/><line x1="724" y1="800" x2="724" y2="848"/><line x1="724" y1="848" x2="767" y2="848"/><line x1="662" y1="862" x2="662" y2="912"/><line x1="662" y1="912" x2="705" y2="912"/><line x1="724" y1="862" x2="724" y2="912"/><line x1="724" y1="912" x2="767" y2="912"/></g>
<g fill="#c0504d"><rect x="667" y="812" width="6" height="36"/><rect x="677" y="842" width="5" height="6"/><rect x="687" y="845" width="5" height="3"/><rect x="667" y="875" width="6" height="37"/><rect x="677" y="906" width="5" height="6"/><rect x="687" y="903" width="5" height="9"/></g>
<g fill="#4caf50"><rect x="729" y="808" width="6" height="40"/><rect x="740" y="838" width="5" height="10"/><rect x="750" y="838" width="5" height="10"/><rect x="729" y="870" width="6" height="42"/><rect x="740" y="906" width="5" height="6"/><rect x="750" y="908" width="5" height="4"/></g>
<g font-size="9"><text x="692" y="818" fill="#e33">①</text><text x="754" y="818" fill="#3a3">③</text><text x="692" y="880" fill="#e33">②</text><text x="754" y="880" fill="#3a3">④</text></g>
<g fill="#f08a24"><polygon points="640,823 650,823 650,820 656,825 650,830 650,827 640,827"/><polygon points="640,891 650,891 650,888 656,893 650,898 650,895 640,895"/></g>
<line x1="345" y1="905" x2="345" y2="945" stroke="#111" stroke-width="1.2"/>
<line x1="436" y1="924" x2="436" y2="937" stroke="#f08a24" stroke-width="1.2"/>
<!-- (c) normal field -->
<rect x="328" y="928" width="446" height="87" rx="10" fill="#eaf2fb" stroke="#3b7dbf" stroke-width="1.8"/>
<text x="352" y="940" font-size="9" font-weight="bold">2D BBox</text>
<rect x="336" y="945" width="36" height="30" fill="#8a9a88" stroke="#666" stroke-width="0.5"/><rect x="341" y="950" width="36" height="30" fill="#a06a50" stroke="#666" stroke-width="0.5"/><rect x="346" y="955" width="36" height="30" fill="#7a8a70" stroke="#666" stroke-width="0.5"/><rect x="353" y="959" width="36" height="30" fill="url(#depth)" stroke="#666" stroke-width="0.5"/>
<line x1="392" y1="968" x2="400" y2="968" stroke="#3b7dbf" stroke-width="1.5"/>
<rect x="402" y="937" width="71" height="53" rx="6" fill="#fdf0c8" stroke="#f08a24" stroke-width="1.5"/>
<text x="434" y="948" font-size="8" fill="#e07020" text-anchor="middle">Selection</text>
<path d="M410,984 C418,984 422,955 428,955 L428,984 Z" fill="#6aab6a"/><path d="M428,955 C436,958 448,980 465,984 L428,984 Z" fill="#c05050"/>
<line x1="428" y1="950" x2="428" y2="986" stroke="#e00" stroke-width="1.2"/>
<line x1="408" y1="985" x2="468" y2="985" stroke="#111" stroke-width="0.8"/><line x1="408" y1="952" x2="408" y2="985" stroke="#111" stroke-width="0.8"/>
<line x1="475" y1="968" x2="481" y2="968" stroke="#3b7dbf" stroke-width="1.5"/>
<rect x="481" y="943" width="40" height="34" fill="#6a7a68" stroke="#666" stroke-width="0.5"/><rect x="487" y="948" width="41" height="36" fill="url(#depth)" stroke="#666" stroke-width="0.5"/>
<text x="533" y="958" font-size="8" font-weight="bold" fill="#2b6cb0">Depth to</text><text x="536" y="968" font-size="8" font-weight="bold" fill="#2b6cb0">Normal</text>
<line x1="528" y1="972" x2="563" y2="972" stroke="#3b7dbf" stroke-width="1.5"/>
<rect x="566" y="932" width="83" height="63" fill="url(#normal)"/>
<path d="M575,945 L600,980 M585,940 L612,975 M600,960 L640,985" stroke="#fff" stroke-width="0.8" opacity="0.6"/>
<text x="669" y="972" font-size="13" font-style="italic" fill="#2b6cb0" text-anchor="middle" class="sf">ℒ<tspan font-size="8" dy="2">NCL</tspan></text>
<line x1="652" y1="980" x2="684" y2="980" stroke="#3b7dbf" stroke-width="1.5"/><polygon points="682,977 688,980 682,983" fill="#3b7dbf"/>
<rect x="688" y="932" width="83" height="63" fill="url(#normal2)"/>
<text x="355" y="1007" font-size="10.5" font-weight="bold" textLength="139" lengthAdjust="spacingAndGlyphs">(c) Normal Field Constraint</text>
<text x="606" y="1007" font-size="8" text-anchor="middle">Disorted Normal</text>
<text x="729" y="1007" font-size="8" text-anchor="middle">Consistent Normal</text>

<!-- ================= PANEL 5 (EXPERIMENTS) ================= -->
<rect x="852" y="633" width="1184" height="388" rx="45" fill="#fff" stroke="#9e0b0f" stroke-width="3"/>
<rect x="923" y="613" width="1039" height="47" rx="9" fill="#990000"/>
<text x="1189" y="647" font-size="29" fill="#fff" textLength="507" lengthAdjust="spacingAndGlyphs">Experiments: Robust and Generalizable</text>
<g font-size="16" font-weight="bold" fill="#a50f14">
<text x="866" y="676" fill="#111">•</text><text x="890" y="677" textLength="271" lengthAdjust="spacingAndGlyphs">(a) Evaluation on Corruption Shifts.</text>
<text x="858" y="822" fill="#111">•</text><text x="880" y="823" textLength="316" lengthAdjust="spacingAndGlyphs">(b) Evaluation on Real-World Scenario.</text>
<text x="1265" y="822" fill="#111">•</text><text x="1282" y="823" textLength="247" lengthAdjust="spacingAndGlyphs">(c) Impact on Dual Uncertainty.</text>
<text x="1643" y="822" fill="#111">•</text><text x="1665" y="823" textLength="179" lengthAdjust="spacingAndGlyphs">(d) Qualitative Results.</text>
</g>

<!-- table 1 -->
<rect x="894" y="784" width="568" height="14" fill="#dde9f7"/>
<g stroke="#333"><line x1="894" y1="690" x2="1462" y2="690" stroke-width="1.2"/><line x1="894" y1="718" x2="1462" y2="718" stroke-width="0.7"/><line x1="894" y1="783" x2="1462" y2="783" stroke-width="0.5"/><line x1="894" y1="798" x2="1462" y2="798" stroke-width="1.2"/></g>
<g stroke="#555" stroke-width="0.6"><line x1="963" y1="690" x2="963" y2="798"/><line x1="1013" y1="690" x2="1013" y2="798"/><line x1="1111" y1="690" x2="1111" y2="798"/><line x1="1212" y1="690" x2="1212" y2="798"/><line x1="1330" y1="690" x2="1330" y2="798"/><line x1="1422" y1="690" x2="1422" y2="798"/>
<line x1="1016" y1="704" x2="1108" y2="704"/><line x1="1114" y1="704" x2="1209" y2="704"/><line x1="1215" y1="704" x2="1327" y2="704"/><line x1="1333" y1="704" x2="1419" y2="704"/></g>
<g class="t" text-anchor="middle">
<text y="708" font-weight="bold"><tspan x="927">Method</tspan><tspan x="987">Reference</tspan><tspan x="1441">Avg</tspan></text>
<text y="701"><tspan x="1062">Noise</tspan><tspan x="1161">Blur</tspan><tspan x="1271">Weather</tspan><tspan x="1372">Digital</tspan></text>
<text y="714"><tspan x="1030">Gauss.</tspan><tspan x="1063">Shot</tspan><tspan x="1089">Impul.</tspan><tspan x="1127">Defoc.</tspan><tspan x="1162">Glass</tspan><tspan x="1196">Motion</tspan><tspan x="1224">Snow</tspan><tspan x="1249">Frost</tspan><tspan x="1274">Fog</tspan><tspan x="1299">Brit.</tspan><tspan x="1344">Contr.</tspan><tspan x="1372">Pixel</tspan><tspan x="1400">Sat.</tspan></text>
<text y="731"><tspan x="927">MonoFlex</tspan><tspan x="987">CVPR'21</tspan><tspan x="1030">0.00</tspan><tspan x="1063">0.00</tspan><tspan x="1089">0.00</tspan><tspan x="1127">0.00</tspan><tspan x="1162">11.02</tspan><tspan x="1196">0.00</tspan><tspan x="1224">5.07</tspan><tspan x="1249">12.94</tspan><tspan x="1274">7.70</tspan><tspan x="1299">14.46</tspan><tspan x="1344">0.00</tspan><tspan x="1372">2.13</tspan><tspan x="1400">5.65</tspan><tspan x="1441">4.54</tspan></text>
<text y="742"><tspan x="927">• TENT</tspan><tspan x="987">ICLR'21</tspan><tspan x="1030">5.31</tspan><tspan x="1063">11.09</tspan><tspan x="1089">6.40</tspan><tspan x="1127">2.22</tspan><tspan x="1162">25.49</tspan><tspan x="1196">2.14</tspan><tspan x="1224">23.88</tspan><tspan x="1249">28.96</tspan><tspan x="1274">35.40</tspan><tspan x="1299">37.07</tspan><tspan x="1344">24.67</tspan><tspan x="1372">22.59</tspan><tspan x="1400">30.63</tspan><tspan x="1441">19.68</tspan></text>
<text y="754"><tspan x="927">• EATA</tspan><tspan x="987">ICML'22</tspan><tspan x="1030">5.44</tspan><tspan x="1063">12.12</tspan><tspan x="1089">4.67</tspan><tspan x="1127">2.75</tspan><tspan x="1162">25.66</tspan><tspan x="1196">2.45</tspan><tspan x="1224">24.77</tspan><tspan x="1249">28.99</tspan><tspan x="1274">35.67</tspan><tspan x="1299">36.95</tspan><tspan x="1344">24.33</tspan><tspan x="1372">22.47</tspan><tspan x="1400">34.10</tspan><tspan x="1441">20.03</tspan></text>
<text y="766"><tspan x="927">• DeYO</tspan><tspan x="987">ICLR'24</tspan><tspan x="1030">5.78</tspan><tspan x="1063">12.52</tspan><tspan x="1089">4.52</tspan><tspan x="1127">3.01</tspan><tspan x="1162">26.05</tspan><tspan x="1196">2.98</tspan><tspan x="1224">24.91</tspan><tspan x="1249">29.40</tspan><tspan x="1274">35.19</tspan><tspan x="1299">37.59</tspan><tspan x="1344">23.75</tspan><tspan x="1372">23.82</tspan><tspan x="1400">34.33</tspan><tspan x="1441">20.30</tspan></text>
<text y="777"><tspan x="927">• MonoTTA</tspan><tspan x="987">ECCV'24</tspan><tspan x="1030">5.93</tspan><tspan x="1063">13.34</tspan><tspan x="1089">4.05</tspan><tspan x="1127">3.35</tspan><tspan x="1162">28.10</tspan><tspan x="1196">3.21</tspan><tspan x="1224">25.86</tspan><tspan x="1249">29.10</tspan><tspan x="1274">36.43</tspan><tspan x="1299">37.18</tspan><tspan x="1344">25.90</tspan><tspan x="1372">25.01</tspan><tspan x="1400">33.89</tspan><tspan x="1441">20.87</tspan></text>
<text y="795"><tspan x="927">• Ours</tspan><tspan x="987">This paper</tspan><tspan font-weight="bold"><tspan x="1030">7.30</tspan><tspan x="1063">15.40</tspan><tspan x="1089">9.36</tspan><tspan x="1127">4.34</tspan><tspan x="1162">30.23</tspan><tspan x="1196">6.89</tspan><tspan x="1224">29.09</tspan><tspan x="1249">29.76</tspan><tspan x="1274">38.38</tspan><tspan x="1299">37.72</tspan><tspan x="1344">29.35</tspan><tspan x="1372">25.88</tspan><tspan x="1400">34.97</tspan><tspan x="1441">22.97</tspan></tspan></text>
</g>
<!-- table 2 -->
<rect x="1469" y="784" width="544" height="14" fill="#dde9f7"/>
<g stroke="#333"><line x1="1469" y1="690" x2="2013" y2="690" stroke-width="1.2"/><line x1="1469" y1="718" x2="2013" y2="718" stroke-width="0.7"/><line x1="1469" y1="783" x2="2013" y2="783" stroke-width="0.5"/><line x1="1469" y1="798" x2="2013" y2="798" stroke-width="1.2"/></g>
<g stroke="#555" stroke-width="0.6"><line x1="1539" y1="690" x2="1539" y2="798"/><line x1="1585" y1="690" x2="1585" y2="798"/><line x1="1682" y1="690" x2="1682" y2="798"/><line x1="1779" y1="690" x2="1779" y2="798"/><line x1="1893" y1="690" x2="1893" y2="798"/><line x1="1985" y1="690" x2="1985" y2="798"/>
<line x1="1588" y1="704" x2="1679" y2="704"/><line x1="1685" y1="704" x2="1776" y2="704"/><line x1="1782" y1="704" x2="1890" y2="704"/><line x1="1896" y1="704" x2="1982" y2="704"/></g>
<g class="t" text-anchor="middle">
<text y="708" font-weight="bold"><tspan x="1504">Method</tspan><tspan x="1562">Reference</tspan><tspan x="1999">Avg</tspan></text>
<text y="701"><tspan x="1632">Noise</tspan><tspan x="1730">Blur</tspan><tspan x="1836">Weather</tspan><tspan x="1938">Digital</tspan></text>
<text y="714"><tspan x="1599">Gauss.</tspan><tspan x="1632">Shot</tspan><tspan x="1665">Impul.</tspan><tspan x="1699">Defoc.</tspan><tspan x="1730">Glass</tspan><tspan x="1763">Motion</tspan><tspan x="1795">Snow</tspan><tspan x="1824">Frost</tspan><tspan x="1849">Fog</tspan><tspan x="1874">Brit.</tspan><tspan x="1909">Contr.</tspan><tspan x="1938">Pixel</tspan><tspan x="1965">Sat.</tspan></text>
<text y="731"><tspan x="1504">MonoGround</tspan><tspan x="1562">CVPR'22</tspan><tspan x="1599">0.00</tspan><tspan x="1632">0.00</tspan><tspan x="1665">0.00</tspan><tspan x="1699">0.00</tspan><tspan x="1730">11.63</tspan><tspan x="1763">0.29</tspan><tspan x="1795">1.95</tspan><tspan x="1824">6.59</tspan><tspan x="1849">3.14</tspan><tspan x="1874">19.25</tspan><tspan x="1909">0.00</tspan><tspan x="1938">4.66</tspan><tspan x="1965">3.74</tspan><tspan x="1999">3.94</tspan></text>
<text y="742"><tspan x="1504">• TENT</tspan><tspan x="1562">ICLR'21</tspan><tspan x="1599">6.82</tspan><tspan x="1632">14.81</tspan><tspan x="1665">8.21</tspan><tspan x="1699">4.88</tspan><tspan x="1730">28.38</tspan><tspan x="1763">2.65</tspan><tspan x="1795">23.92</tspan><tspan x="1824">28.08</tspan><tspan x="1849">33.06</tspan><tspan x="1874">36.70</tspan><tspan x="1909">20.22</tspan><tspan x="1938">30.63</tspan><tspan x="1965">33.27</tspan><tspan x="1999">20.90</tspan></text>
<text y="754"><tspan x="1504">• EATA</tspan><tspan x="1562">ICML'22</tspan><tspan x="1599">7.12</tspan><tspan x="1632">15.26</tspan><tspan x="1665">8.81</tspan><tspan x="1699">5.09</tspan><tspan x="1730">29.08</tspan><tspan x="1763">2.52</tspan><tspan x="1795">24.18</tspan><tspan x="1824">28.03</tspan><tspan x="1849">33.43</tspan><tspan x="1874">36.78</tspan><tspan x="1909">21.61</tspan><tspan x="1938">30.50</tspan><tspan x="1965">33.42</tspan><tspan x="1999">21.22</tspan></text>
<text y="766"><tspan x="1504">• DeYO</tspan><tspan x="1562">ICLR'24</tspan><tspan x="1599">7.35</tspan><tspan x="1632">15.72</tspan><tspan x="1665">9.38</tspan><tspan x="1699">5.74</tspan><tspan x="1730">30.01</tspan><tspan x="1763">2.99</tspan><tspan x="1795">25.03</tspan><tspan x="1824">28.55</tspan><tspan x="1849">34.32</tspan><tspan x="1874">37.31</tspan><tspan x="1909">23.41</tspan><tspan x="1938">30.99</tspan><tspan x="1965">34.16</tspan><tspan x="1999">21.92</tspan></text>
<text y="777"><tspan x="1504">• MonoTTA</tspan><tspan x="1562">ECCV'24</tspan><tspan x="1599">7.88</tspan><tspan x="1632">16.73</tspan><tspan x="1665">10.35</tspan><tspan x="1699">5.97</tspan><tspan x="1730">31.19</tspan><tspan x="1763">3.06</tspan><tspan x="1795">25.24</tspan><tspan x="1824">28.99</tspan><tspan x="1849">34.85</tspan><tspan x="1874">37.82</tspan><tspan x="1909">25.00</tspan><tspan x="1938">31.61</tspan><tspan x="1965">34.79</tspan><tspan x="1999">22.57</tspan></text>
<text y="795"><tspan x="1504">• Ours</tspan><tspan x="1562">This paper</tspan><tspan font-weight="bold"><tspan x="1599">9.72</tspan><tspan x="1632">18.88</tspan><tspan x="1665">12.74</tspan><tspan x="1699">7.24</tspan><tspan x="1730">33.02</tspan><tspan x="1763">5.24</tspan><tspan x="1795">28.50</tspan><tspan x="1824">30.73</tspan><tspan x="1849">37.27</tspan><tspan x="1874">39.40</tspan><tspan x="1909">28.34</tspan><tspan x="1938">33.22</tspan><tspan x="1965">37.24</tspan><tspan x="1999">24.73</tspan></tspan></text>
</g>

<!-- table b -->
<rect x="900" y="917" width="289" height="11" fill="#dde9f7"/><rect x="900" y="994" width="289" height="11" fill="#dde9f7"/>
<g stroke="#333"><line x1="900" y1="835" x2="1189" y2="835" stroke-width="1.2"/><line x1="900" y1="869" x2="1189" y2="869" stroke-width="0.6"/><line x1="900" y1="929" x2="1189" y2="929" stroke-width="0.8"/><line x1="900" y1="946" x2="1189" y2="946" stroke-width="0.6"/><line x1="900" y1="1006" x2="1189" y2="1006" stroke-width="1.2"/></g>
<g stroke="#555" stroke-width="0.6"><line x1="965" y1="835" x2="965" y2="1006"/><line x1="1078" y1="835" x2="1078" y2="1006"/><line x1="970" y1="854" x2="1074" y2="854"/><line x1="1083" y1="854" x2="1186" y2="854"/></g>
<g class="tb">
<text x="907" y="856" font-weight="bold">Method</text><text x="907" y="941" font-weight="bold">Method</text>
<text x="907" y="881">Source model</text><text x="912" y="892">• TENT</text><text x="912" y="903">• DeYO</text><text x="912" y="914">• MonoTTA</text><text x="912" y="926">• Ours</text>
<text x="907" y="958">Source model</text><text x="912" y="969">• TENT</text><text x="912" y="980">• DeYO</text><text x="912" y="991">• MonoTTA</text><text x="912" y="1003">• Ours</text>
<g text-anchor="middle">
<text y="849"><tspan x="1020">MonoFlex</tspan><tspan x="1133">MonoGround</tspan></text>
<text y="865"><tspan x="986">D → N</tspan><tspan x="1020">N → D</tspan><tspan x="1059">Avg.</tspan><tspan x="1097">D → N</tspan><tspan x="1131">N → D</tspan><tspan x="1171">Avg.</tspan></text>
<text y="881"><tspan x="986">1.53</tspan><tspan x="1020">2.75</tspan><tspan x="1059">2.14</tspan><tspan x="1097">6.97</tspan><tspan x="1131">1.09</tspan><tspan x="1171">4.03</tspan></text>
<text y="892"><tspan x="986">3.33</tspan><tspan x="1020">3.45</tspan><tspan x="1059">3.39</tspan><tspan x="1097">8.36</tspan><tspan x="1131">1.66</tspan><tspan x="1171">5.01</tspan></text>
<text y="903"><tspan x="986">4.72</tspan><tspan x="1020">4.87</tspan><tspan x="1059">4.79</tspan><tspan x="1097">11.01</tspan><tspan x="1131">1.40</tspan><tspan x="1171">6.21</tspan></text>
<text y="914"><tspan x="986">6.92</tspan><tspan x="1020">3.68</tspan><tspan x="1059">5.30</tspan><tspan x="1097">13.61</tspan><tspan x="1131">1.29</tspan><tspan x="1171">7.45</tspan></text>
<text y="926" font-weight="bold"><tspan x="986">9.05</tspan><tspan x="1020">5.41</tspan><tspan x="1059">7.23</tspan><tspan x="1097">15.70</tspan><tspan x="1131">1.91</tspan><tspan x="1171">8.81</tspan></text>
<text y="941"><tspan x="986">S → R</tspan><tspan x="1020">R → S</tspan><tspan x="1059">Avg.</tspan><tspan x="1097">S → R</tspan><tspan x="1131">R → S</tspan><tspan x="1171">Avg.</tspan></text>
<text y="958"><tspan x="986">6.86</tspan><tspan x="1020">10.91</tspan><tspan x="1059">8.89</tspan><tspan x="1097">8.03</tspan><tspan x="1131">7.44</tspan><tspan x="1171">7.73</tspan></text>
<text y="969"><tspan x="986">8.53</tspan><tspan x="1020">11.61</tspan><tspan x="1059">10.07</tspan><tspan x="1097">9.94</tspan><tspan x="1131">8.71</tspan><tspan x="1171">9.33</tspan></text>
<text y="980"><tspan x="986">9.33</tspan><tspan x="1020">12.04</tspan><tspan x="1059">10.68</tspan><tspan x="1097">10.54</tspan><tspan x="1131">9.10</tspan><tspan x="1171">9.82</tspan></text>
<text y="991"><tspan x="986">9.47</tspan><tspan x="1020">12.55</tspan><tspan x="1059">11.01</tspan><tspan x="1097">10.89</tspan><tspan x="1131">8.90</tspan><tspan x="1171">9.90</tspan></text>
<text y="1003" font-weight="bold"><tspan x="986">11.54</tspan><tspan x="1020">13.21</tspan><tspan x="1059">12.38</tspan><tspan x="1097">12.88</tspan><tspan x="1131">9.54</tspan><tspan x="1171">11.21</tspan></text>
</g>
</g>

<!-- 3D plot a -->
<text x="1248" y="843" font-size="11" font-weight="bold" textLength="80" lengthAdjust="spacingAndGlyphs">(a) Source Model</text>
<polygon points="1233,867 1294,847 1294,933 1235,957" fill="#ececec"/>
<polygon points="1294,847 1382,865 1382,943 1294,933" fill="#e2e2e2"/>
<polygon points="1235,957 1294,933 1382,943 1328,987" fill="#f3f3f3"/>
<g stroke="#fff" stroke-width="0.8"><line x1="1253" y1="860" x2="1254" y2="949"/><line x1="1273" y1="854" x2="1274" y2="941"/><line x1="1233" y1="897" x2="1294" y2="876"/><line x1="1234" y1="927" x2="1294" y2="905"/><line x1="1316" y1="851" x2="1316" y2="935"/><line x1="1338" y1="856" x2="1338" y2="938"/><line x1="1360" y1="860" x2="1360" y2="940"/><line x1="1294" y1="876" x2="1382" y2="891"/><line x1="1294" y1="905" x2="1382" y2="917"/><line x1="1255" y1="949" x2="1346" y2="979"/><line x1="1275" y1="941" x2="1364" y2="962"/><line x1="1260" y1="967" x2="1316" y2="937"/><line x1="1290" y1="977" x2="1340" y2="940"/></g>
<path d="M1294,857 L1294,878 C1300,876 1305,880 1312,879 C1325,878 1340,882 1355,884 C1365,886 1375,890 1382,895" fill="none" stroke="#3a8a3a" stroke-width="1" stroke-dasharray="3,2"/>
<path d="M1281,920 L1281,930 C1300,932 1340,940 1384,948" fill="none" stroke="#3a4a9a" stroke-width="1" stroke-dasharray="3,2"/>
<g fill="#7a6ad8"><circle cx="1281" cy="866" r="1.5"/><circle cx="1282" cy="872" r="1.5"/><circle cx="1281" cy="878" r="1.5"/><circle cx="1280" cy="884" r="1.5"/><circle cx="1282" cy="890" r="1.5"/></g>
<path d="M1275,889 C1285,886 1295,890 1305,888 C1318,887 1330,894 1340,898 C1350,902 1358,906 1363,909" fill="none" stroke="url(#cA)" stroke-width="4"/>
<g font-size="6.5" fill="#222"><text x="1386" y="880">-0.6</text><text x="1386" y="892">-0.7</text><text x="1386" y="905">-0.8</text><text x="1386" y="918">-0.9</text><text x="1386" y="930">-1.0</text>
<text x="1365" y="949">0.65</text><text x="1361" y="955">0.60</text><text x="1355" y="963">0.55</text><text x="1349" y="971">0.50</text><text x="1343" y="980">0.45</text><text x="1338" y="989">0.40</text>
<text x="1235" y="962">0</text><text x="1258" y="970">1000</text><text x="1288" y="978">2000</text><text x="1310" y="986">3000</text></g>
<text transform="translate(1405,897) rotate(-90)" font-size="9" text-anchor="middle">Geo. U.</text>
<text transform="translate(1378,975) rotate(-60)" font-size="9" text-anchor="middle">Sem. U.</text>
<text transform="translate(1268,993) rotate(18)" font-size="9" text-anchor="middle">Online batch</text>
<!-- 3D plot d -->
<text x="1455" y="843" font-size="11" font-weight="bold" textLength="97" lengthAdjust="spacingAndGlyphs">(d) Complete DUO</text>
<polygon points="1428,870 1487,847 1487,925 1428,960" fill="#ececec"/>
<polygon points="1487,847 1576,877 1576,933 1487,925" fill="#e2e2e2"/>
<polygon points="1428,960 1487,925 1576,933 1531,983" fill="#f3f3f3"/>
<g stroke="#fff" stroke-width="0.8"><line x1="1447" y1="863" x2="1447" y2="949"/><line x1="1467" y1="855" x2="1467" y2="937"/><line x1="1428" y1="900" x2="1487" y2="873"/><line x1="1428" y1="930" x2="1487" y2="899"/><line x1="1509" y1="854" x2="1509" y2="927"/><line x1="1531" y1="862" x2="1531" y2="929"/><line x1="1553" y1="869" x2="1553" y2="931"/><line x1="1487" y1="873" x2="1576" y2="896"/><line x1="1487" y1="899" x2="1576" y2="914"/><line x1="1450" y1="947" x2="1550" y2="962"/><line x1="1470" y1="936" x2="1565" y2="947"/><line x1="1460" y1="972" x2="1510" y2="928"/><line x1="1495" y1="978" x2="1540" y2="930"/></g>
<path d="M1488,857 L1488,868 L1494,860 C1500,858 1505,862 1510,866 C1530,880 1550,905 1576,930" fill="none" stroke="#3a8a3a" stroke-width="1" stroke-dasharray="3,2"/>
<path d="M1477,923 C1482,925 1480,930 1486,935 C1492,942 1496,950 1502,958 C1510,966 1518,972 1527,975" fill="none" stroke="#3a4a9a" stroke-width="1" stroke-dasharray="3,2"/>
<path d="M1477,862 C1480,880 1476,895 1484,910 S1500,940 1510,955 S1525,970 1531,975" fill="none" stroke="url(#cD)" stroke-width="4"/>
<g font-size="6.5" fill="#222"><text x="1585" y="883">-0.6</text><text x="1585" y="897">-0.7</text><text x="1585" y="910">-0.8</text><text x="1585" y="924">-0.9</text><text x="1585" y="936">-1.0</text>
<text x="1566" y="950">0.65</text><text x="1562" y="959">0.60</text><text x="1556" y="968">0.55</text><text x="1550" y="976">0.50</text><text x="1545" y="985">0.45</text><text x="1540" y="994">0.40</text>
<text x="1429" y="968">0</text><text x="1450" y="975">1000</text><text x="1474" y="983">2000</text><text x="1497" y="991">3000</text></g>
<text transform="translate(1608,898) rotate(-90)" font-size="9" text-anchor="middle">Geo. U.</text>
<text transform="translate(1578,980) rotate(-60)" font-size="9" text-anchor="middle">Sem. U.</text>
<text transform="translate(1462,998) rotate(18)" font-size="9" text-anchor="middle">Online batch</text>

<!-- qualitative -->
<g>
<rect x="1644" y="833" width="261" height="90" fill="url(#street2)"/>
<polygon points="1700,923 1810,870 1860,870 1905,923" fill="#c8c4ba"/>
<rect x="1750" y="833" width="40" height="30" fill="#e8e6e0"/>
<path d="M1650,923 L1655,880 C1665,868 1690,862 1730,862 C1750,862 1765,870 1770,880 L1775,923 Z" fill="#8e96a2"/>
<rect x="1690" y="868" width="40" height="16" fill="#3c4250"/>
<rect x="1644" y="866" width="60" height="57" fill="#50dd50" opacity="0.55"/>
<g fill="none" stroke="#2e2" stroke-width="1"><polygon points="1644,866 1705,866 1705,923 1644,923"/><polygon points="1705,866 1760,860 1760,910 1705,923"/></g>
<g fill="none" stroke="#e22" stroke-width="1"><polygon points="1648,870 1700,870 1700,923 1648,923"/></g>
<rect x="1790" y="857" width="36" height="21" fill="#8a8a2a" opacity="0.8" stroke="#e33" stroke-width="1"/>
<rect x="1827" y="851" width="18" height="11" fill="#5a6a3a" stroke="#2e2" stroke-width="1"/>
<rect x="1875" y="848" width="23" height="18" fill="#f0e8e8" stroke="#e22" stroke-width="1.5"/>
<rect x="1644" y="925" width="261" height="82" fill="url(#street2)"/>
<polygon points="1700,1007 1810,960 1860,960 1905,1007" fill="#c8c4ba"/>
<path d="M1650,1007 L1655,968 C1665,957 1690,952 1730,952 C1750,952 1765,960 1770,968 L1775,1007 Z" fill="#8e96a2"/>
<rect x="1690" y="957" width="40" height="15" fill="#3c4250"/>
<rect x="1644" y="955" width="56" height="52" fill="#50dd50" opacity="0.55"/>
<g fill="none" stroke-width="1"><polygon points="1644,955 1700,955 1700,1007 1644,1007" stroke="#e22"/><polygon points="1700,955 1760,950 1760,1000 1700,1007" stroke="#2e2"/><polygon points="1702,953 1762,948 1762,998" stroke="#e22"/></g>
<rect x="1791" y="946" width="36" height="22" fill="#8a8a2a" opacity="0.8" stroke="#2e2" stroke-width="1"/>
<rect x="1827" y="940" width="18" height="11" fill="#5a6a3a" stroke="#e22" stroke-width="1"/>
<rect x="1874" y="937" width="22" height="18" fill="#f0ecd8" stroke="#e82" stroke-width="1.5"/>
<rect x="1907" y="833" width="89" height="90" fill="#e6e6e6"/><rect x="1907" y="925" width="89" height="82" fill="#e6e6e6"/>
<g fill="none" stroke="#4a7ac8" stroke-width="1.6">
<circle cx="1934" cy="893" r="18"/><circle cx="1962" cy="850" r="9" stroke-dasharray="3,2"/><circle cx="1980" cy="905" r="10"/><circle cx="1972" cy="868" r="5" stroke-dasharray="2,2"/>
<path d="M1922,876 L1955,845 M1968,858 L1985,895" stroke-dasharray="4,3"/>
<circle cx="1934" cy="980" r="18"/><circle cx="1962" cy="939" r="7" stroke-dasharray="3,2"/><circle cx="1980" cy="990" r="10"/><circle cx="1972" cy="956" r="5" stroke-dasharray="2,2"/>
<path d="M1922,963 L1955,935 M1968,946 L1985,980" stroke-dasharray="4,3"/>
</g>
<g fill="none" stroke-width="1"><rect x="1929" y="880" width="6" height="15" stroke="#2c2"/><rect x="1933" y="897" width="6" height="14" stroke="#e22"/><rect x="1961" y="843" width="3" height="8" stroke="#2c2"/><rect x="1961" y="852" width="3" height="7" stroke="#e22"/><rect x="1978" y="901" width="4" height="8" stroke="#e22"/><rect x="1957" y="888" width="3" height="9" stroke="#e22"/><rect x="1958" y="910" width="3" height="7" stroke="#2c2"/>
<rect x="1930" y="970" width="7" height="20" stroke="#2c2"/><rect x="1932" y="971" width="7" height="20" stroke="#e22"/><rect x="1960" y="934" width="3" height="8" stroke="#e22"/><rect x="1977" y="985" width="5" height="10" stroke="#e22"/><rect x="1978" y="984" width="5" height="10" stroke="#2c2"/><rect x="1957" y="975" width="3" height="9" stroke="#e22"/><rect x="1958" y="995" width="3" height="8" stroke="#2c2"/></g>
</g>
</svg>
</body></html>
